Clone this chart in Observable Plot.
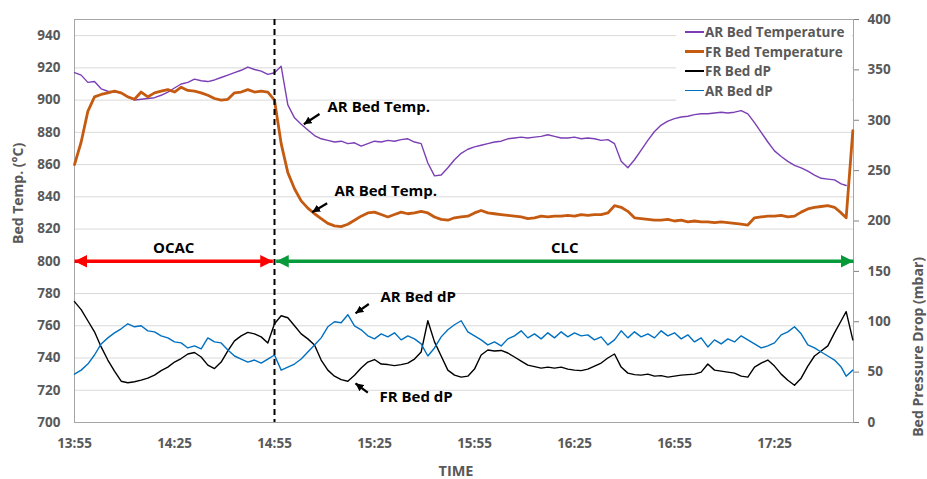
<!DOCTYPE html>
<html><head><meta charset="utf-8">
<script src="https://cdn.jsdelivr.net/npm/d3@7"></script>
<script src="https://cdn.jsdelivr.net/npm/@observablehq/plot@0.6"></script>
<style>
body{margin:0;background:#fff;font-family:"Open Sans",sans-serif;}
#wrap{position:relative;width:927px;height:479px;}
#legend{position:absolute;left:676px;top:21px;width:176px;height:80px;background:#fff;}
.item{position:absolute;left:9px;height:20px;display:flex;align-items:center;font-weight:700;font-size:13.5px;color:#595959;white-space:nowrap;}
.sw{width:19px;margin-right:1px;}
</style></head><body><div id="wrap"><div id="legend"></div></div>
<script>
// minutes after 13:55
const times = [0,2,4,6,8,10,12,14,16,18,20,22,24,26,28,30,32,34,36,38,40,42,44,46,48,50,52,54,56,58,
60,62,64,66,68,70,72,74,76,78,80,82,84,86,88,90,92,94,96,98,100,102,104,106,108,110,112,114,116,118,
120,122,124,126,128,130,132,134,136,138,140,142,144,146,148,150,152,154,156,158,160,162,164,166,168,170,172,174,176,178,
180,182,184,186,188,190,192,194,196,198,200,202,204,206,208,210,212,214,216,218,220,222,224,226,228,230,231.5,233.5];

const arBedTemp = [917,915.5,911,911.5,907,905.5,905,904.5,902,900,
900.5,901,901.5,903,905,907.5,910,911,913,912,
911.5,912.5,914,915.5,917,918.5,920.5,919,918,916,
917,921,897,889,885,881.5,878,876,875,874,
874.5,873,873.5,871.5,873,874.5,874,875,874.5,875.5,
876,874,873,861,853,853.5,858,863,867,869.5,
871,872,873,874,874.5,876,876.5,877,876.5,877,
877.5,878.5,877.5,876.5,876.5,877,876,876.5,876,875,
875.5,873,862,858,863,869,875,880.5,884.5,887,
888.5,889.5,890,891,891.5,891.5,892,892.5,892,892.5,
893.5,891.5,886,880,874,868.5,865,862,859.5,858,
856,853.5,851.5,851,850.5,848,847,null];

const frBedTemp = [860,874,893,902,903.5,904.5,905.5,904.5,902,900.5,
905,902,904.5,905.5,906.5,905,908,906,905.5,904.5,
903,901,900,900.5,904.5,905,906.5,905,905.5,905,
900,873,855,845,837.5,833,829.5,826.5,823.5,822,
821.5,823,825.5,828,830,830.5,829,827.5,829,830.5,
829.5,830,831,830,827.5,826,825.5,827,827.5,828,
830,831.5,830,829.5,829,828.5,828,827.5,826.5,827,
828,827.5,828,828,828.5,828,829,828.5,829,829,
830,834.5,833.5,831,827,826.5,826,825.5,825.5,826,
825,825.5,824.5,825,824.5,824.5,824,824.5,824,823.5,
823,822.5,827,827.5,828,828,828.5,827.5,828,830.5,
832.5,833.5,834,834.5,833.5,830,827,881];

// mbar
const frBedDP = [120,112,101,90,75,62,51,41,39.5,40.5,
42,44,47,51.5,55,60,63.5,68,69.5,65,
57,53.5,60,71,81,86,89.5,88,85,79,
98,106,104,96,88,83,77,62,52,46,
42.5,41,47,54,60,62.5,58,57.5,56.5,57.5,
59,63,70,101,80,66,52,47,45,46,
53,67,72,71,71.5,69,65,61,57,55.5,
54,55,54,55,53,52,51.5,53,56,59,
64,68,55,49,47.5,47,48,46,46.5,45,
46,47,47.5,48,50,58,52,51,50,49,
46,45,55,59,62,56,48,42,37,44,
56,66,71,76,89,101,110,82];

const arBedDP = [48,52,58,67,78,84,89,93,98,95,
96,91,90,86,84,80,79,74,76,73,
84,80,79,72,66,63,60,62,59,63,
67,52,55,58,63,70,77,84,95,100,
99,107,96,92,86,83,88,85,89,82,
86,83,78,66,74,85,92,97,101,90,
86,82,77,80,76,83,86,91,84,88,
83,89,84,90,85,89,86,87,82,85,
77,82,91,84,90,85,88,84,91,86,
89,83,87,80,84,75,82,78,83,80,
86,82,78,74,76,79,87,90,95,88,
77,74,70,66,62,55,46,52];

const seriesNames = ["AR Bed Temperature", "FR Bed Temperature", "FR Bed dP", "AR Bed dP"];
const seriesColors = ["#7B3FB5", "#C55A11", "#000000", "#0070C0"];
const seriesWidths = [1.4, 2.8, 1.4, 1.4];
const seriesOnRight = [false, false, true, true];
const seriesValues = [arBedTemp, frBedTemp, frBedDP, arBedDP];

const leftTicks = [700,720,740,760,780,800,820,840,860,880,900,920,940];
const leftDomain = [700, 950];
const rightTicks = [0,50,100,150,200,250,300,350,400];
const rightDomain = [0, 400];
const xTicks = [0,30,60,90,120,150,180,210];
const xTickLabels = ["13:55","14:25","14:55","15:25","15:55","16:25","16:55","17:25"];
const xDomain = [0, 233.7];

// phases
const phaseNames = ["OCAC", "CLC"];
const phaseStart = [0, 60.5];
const phaseEnd = [59.5, 233.7];
const phaseColors = ["#FF0000", "#079A3A"];
const phaseLevel = 800;
const switchTime = 60;

// annotations (left-axis units)
const annLabels = ["AR Bed Temp.", "AR Bed Temp.", "AR Bed dP", "FR Bed dP"];
const annTextX = [75.9, 78, 91.8, 91.5];
const annTextY = [895.5, 843.6, 777.7, 716];
const annFromX = [73.5, 75.8, 88.3, 88];
const annFromY = [891.4, 836, 773.5, 718.5];
const annToX = [68.8, 71.3, 84.3, 84.3];
const annToY = [885, 830.4, 767.7, 724.3];

// map right axis (mbar) onto the left axis (°C) scale
const toLeft = p => leftDomain[0] + (p - rightDomain[0]) * (leftDomain[1] - leftDomain[0]) / (rightDomain[1] - rightDomain[0]);
const fromLeft = v => rightDomain[0] + (v - leftDomain[0]) * (rightDomain[1] - rightDomain[0]) / (leftDomain[1] - leftDomain[0]);

function tri(color, context) {
  const m = d3.create("svg:marker")
    .attr("viewBox", "-10 -5 10 10")
    .attr("markerWidth", 3.6).attr("markerHeight", 3.6)
    .attr("orient", "auto-start-reverse")
    .attr("fill", color).attr("stroke", "none");
  m.append("path").attr("d", "M-10,-5L0,0L-10,5Z");
  return m.node();
}

const seriesMarks = seriesNames.map((name, s) => {
  const rows = times.map((t, i) => ({t, v: seriesValues[s][i]}))
    .filter(d => d.v != null)
    .map(d => ({t: d.t, y: seriesOnRight[s] ? toLeft(d.v) : d.v}));
  return Plot.line(rows, {x: "t", y: "y", stroke: seriesColors[s], strokeWidth: seriesWidths[s], strokeLinejoin: "round"});
});

const ann = annLabels.map((label, i) => ({label, tx: annTextX[i], ty: annTextY[i], x1: annFromX[i], y1: annFromY[i], x2: annToX[i], y2: annToY[i]}));
const phases = phaseNames.map((name, i) => ({name, x1: phaseStart[i], x2: phaseEnd[i], mid: (phaseStart[i] + phaseEnd[i]) / 2, color: phaseColors[i]}));

const tickFont = {fontSize: 13.5, fontWeight: "bold", fill: "#595959"};

const chart = Plot.plot({
  width: 927, height: 479,
  marginLeft: 74, marginRight: 74, marginTop: 19, marginBottom: 57,
  x: {domain: xDomain},
  y: {domain: leftDomain},
  style: {fontFamily: "'Open Sans', sans-serif", background: "white", overflow: "visible"},
  marks: [
    Plot.gridY(leftTicks.filter(d => d > leftDomain[0]), {stroke: "#d9d9d9", strokeOpacity: 1}),
    Plot.frame({stroke: "#a6a6a6"}),
    Plot.axisY(leftTicks, {anchor: "left", tickSize: 0, tickPadding: 14, label: null, ...tickFont}),
    Plot.axisY(rightTicks.map(toLeft), {anchor: "right", tickSize: 5, tickPadding: 9, stroke: "#808080", label: null,
      tickFormat: d => String(Math.round(fromLeft(d))), ...tickFont}),
    Plot.axisX(xTicks, {tickSize: 0, tickPadding: 16, label: null,
      tickFormat: d => xTickLabels[xTicks.indexOf(d)], ...tickFont}),
    Plot.text(["Bed Temp. (°C)"], {frameAnchor: "left", dx: -56, dy: 23, rotate: -90, fontSize: 14, fontWeight: "bold", fill: "#595959"}),
    Plot.text(["Bed Pressure Drop (mbar)"], {frameAnchor: "right", dx: 65, dy: 36, rotate: -90, fontSize: 14, fontWeight: "bold", fill: "#595959"}),
    Plot.text(["TIME"], {frameAnchor: "bottom", dx: -8, dy: 53, fontSize: 14.5, fontWeight: "bold", fill: "#595959"}),
    ...seriesMarks,
    Plot.ruleX([switchTime], {stroke: "black", strokeWidth: 2, strokeDasharray: "6,4"}),
    ...phases.map(p => Plot.link([p], {x1: "x1", x2: "x2", y1: phaseLevel, y2: phaseLevel, stroke: p.color, strokeWidth: 3.5, markerStart: tri, markerEnd: tri})),
    Plot.text(phases, {x: "mid", y: phaseLevel, dy: -13, text: "name", fontSize: 15, fontWeight: "bold", fill: "black"}),
    Plot.link(ann, {x1: "x1", y1: "y1", x2: "x2", y2: "y2", stroke: "black", strokeWidth: 2.2, markerEnd: tri}),
    Plot.text(ann, {x: "tx", y: "ty", text: "label", textAnchor: "start", fontSize: 15, fontWeight: "bold", fill: "black"})
  ]
});
document.getElementById("wrap").prepend(chart);

const legend = document.getElementById("legend");
seriesNames.forEach((name, s) => {
  const item = document.createElement("div");
  item.className = "item";
  item.style.top = (1 + s * 19.5) + "px";
  const sw = document.createElement("div");
  sw.className = "sw";
  sw.style.height = (seriesWidths[s] > 2 ? 3 : 1.5) + "px";
  sw.style.background = seriesColors[s];
  item.appendChild(sw);
  item.appendChild(document.createTextNode(name));
  legend.appendChild(item);
});
</script>
</body></html>
